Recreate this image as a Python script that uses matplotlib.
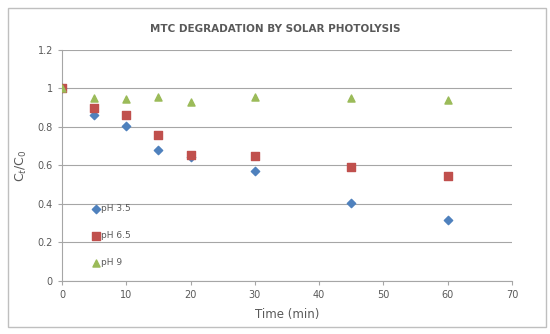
import matplotlib.pyplot as plt
from matplotlib.patches import Rectangle

# sampling times (min) and C_t/C_0 for each pH
time = [0, 5, 10, 15, 20, 30, 45, 60]
ph35 = [1.0, 0.86, 0.805, 0.68, 0.645, 0.57, 0.405, 0.315]
ph65 = [1.0, 0.90, 0.86, 0.76, 0.655, 0.65, 0.59, 0.545]
ph9 = [1.0, 0.95, 0.945, 0.955, 0.93, 0.955, 0.95, 0.94]

grey = '#595959'

fig = plt.figure(figsize=(5.5, 3.34), dpi=100)
ax = fig.add_axes([0.1127, 0.1587, 0.8182, 0.6916])

ax.scatter(time, ph35, marker='D', s=18, color='#4F81BD', label='pH 3.5', zorder=3)
ax.scatter(time, ph65, marker='s', s=26, color='#C0504D', label='pH 6.5', zorder=3)
ax.scatter(time, ph9, marker='^', s=26, color='#9BBB59', label='pH 9', zorder=3)

ax.set_xlim(0, 70)
ax.set_ylim(0, 1.2)
ax.set_xticks(range(0, 71, 10))
ax.set_yticks([0, 0.2, 0.4, 0.6, 0.8, 1, 1.2])
ax.set_yticklabels(['0', '0.2', '0.4', '0.6', '0.8', '1', '1.2'])
ax.grid(axis='y', color='#A6A6A6', linewidth=0.8)
ax.set_axisbelow(True)
for s in ['top', 'right']:
    ax.spines[s].set_visible(False)
for s in ['left', 'bottom']:
    ax.spines[s].set_color('#A6A6A6')
ax.tick_params(colors=grey, labelsize=7, length=3, color='#A6A6A6')

ax.set_xlabel('Time (min)', fontsize=8.5, color=grey, labelpad=6)
ax.set_ylabel('C$_t$/C$_0$', fontsize=9, color=grey, labelpad=6)
fig.text(0.5, 0.905, 'MTC DEGRADATION BY SOLAR PHOTOLYSIS', ha='center',
         fontsize=7.5, fontweight='bold', color=grey)

ax.legend(loc='center left', bbox_to_anchor=(3.3, 0.235), bbox_transform=ax.transData,
          frameon=False, fontsize=6.5, labelspacing=2.0, handletextpad=0.1,
          handlelength=1.0, labelcolor=grey)

fig.patches.append(Rectangle((0.015, 0.02), 0.978, 0.955, transform=fig.transFigure,
                             fill=False, edgecolor='#BFBFBF', linewidth=1))

fig.savefig('out.png', dpi=100)
